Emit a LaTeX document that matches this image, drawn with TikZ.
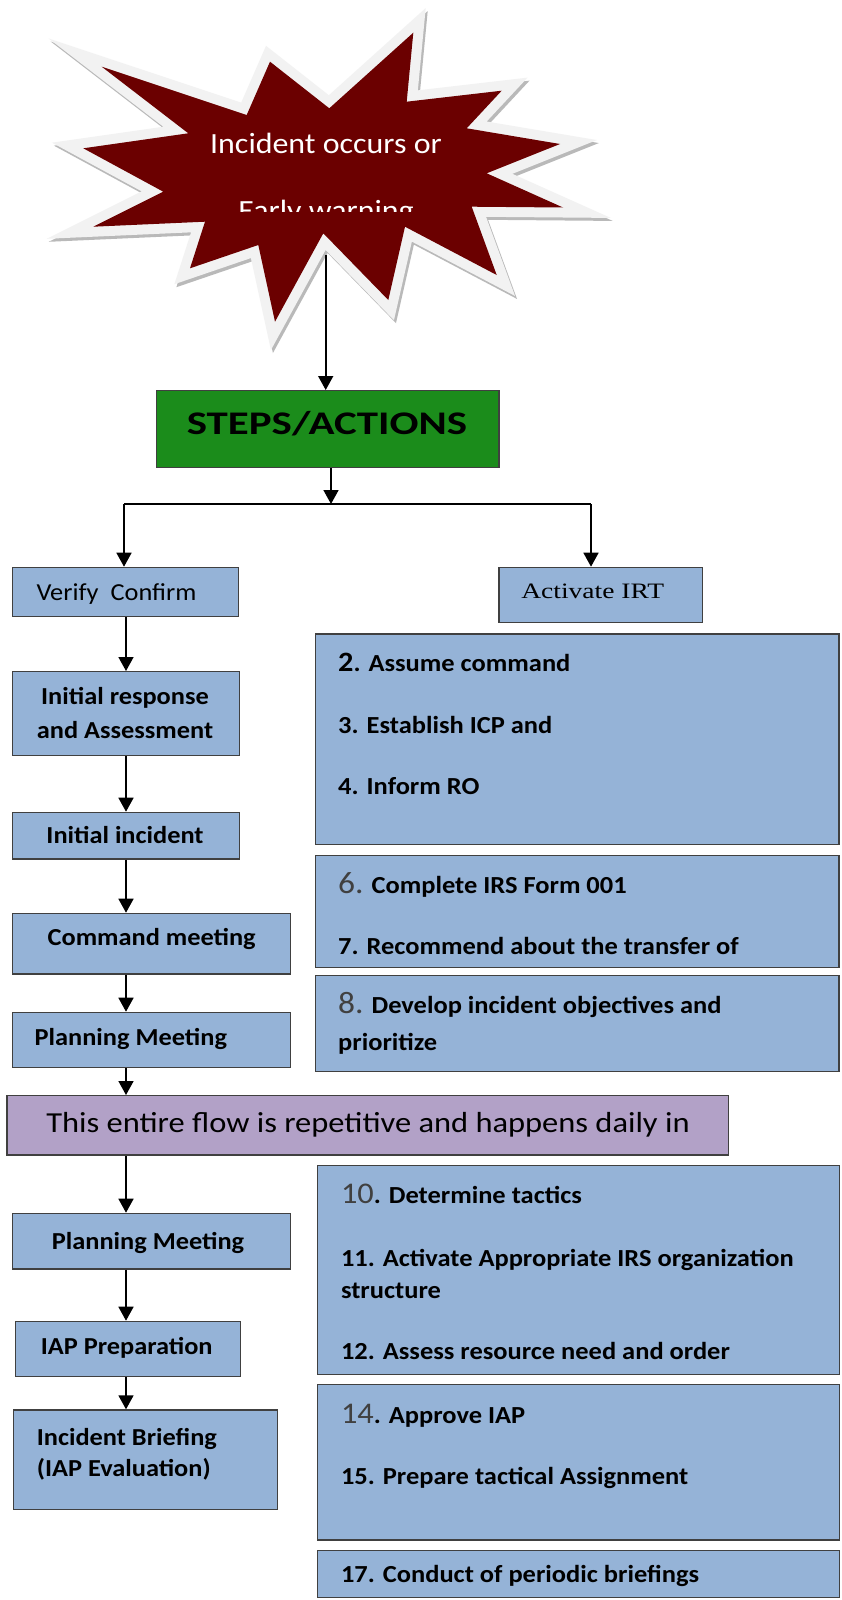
\documentclass[tikz,border=0pt]{standalone}
\usepackage{fontspec}
\setmainfont{Carlito}
\newfontfamily\stepsfont[FakeStretch=1.3]{Carlito}
\newfontfamily\starfont[FakeStretch=1.09]{Carlito}
\newfontfamily\boxfont[FakeStretch=1.08]{Carlito}
\newfontfamily\purplefont[FakeStretch=1.12]{Carlito}
\newfontfamily\irtfont[FakeStretch=1.25]{Liberation Serif}
\usetikzlibrary{arrows.meta}
\definecolor{boxblue}{RGB}{149,179,215}
\definecolor{boxpurple}{RGB}{178,161,199}
\definecolor{boxgreen}{RGB}{27,140,27}
\definecolor{stardark}{RGB}{107,0,0}
\definecolor{starrim}{RGB}{242,242,242}
\definecolor{numgrey}{RGB}{64,64,64}
\begin{document}
\begin{tikzpicture}[x=1pt,y=-1pt,
  bx/.style={draw=black!75, line width=1.4pt, fill=boxblue, inner sep=0pt, anchor=north west},
  lt/.style={inner sep=0pt, anchor=base, font=\boxfont\bfseries\fontsize{24.4}{28}\selectfont},
  ltw/.style={inner sep=0pt, anchor=base west, font=\boxfont\bfseries\fontsize{24.4}{28}\selectfont},
  rt/.style={inner sep=0pt, anchor=base west, font=\boxfont\bfseries\fontsize{24.5}{28}\selectfont},
  arr/.style={draw=black, line width=1.6pt, -{Triangle[length=14pt,width=15pt]}},
  ln/.style={draw=black, line width=1.3pt},
  starpath/.style={insert path={(101.7,66.7) -- (246.7,115) -- (270,61.7) -- (329.3,108.3) -- (413.3,32.7) -- (406.7,101.7) -- (501.7,90.7) -- (466.7,128.3) -- (560,144) -- (486.7,173.3) -- (563,207.5) -- (471.7,206.7) -- (496.7,275) -- (405,226.7) -- (388.3,300) -- (323.3,233.3) -- (275,321.7) -- (258.3,245) -- (190,268.3) -- (205,221.7) -- (93.3,226.7) -- (163.3,191.7) -- (83.3,148.3) -- (188.3,133.3) -- cycle}}
]
\useasboundingbox (0,0) rectangle (842,1600);
\fill[white] (0,0) rectangle (842,1600);

% ---- star ----
\begin{scope}[shift={(2,3)}]
  \path[draw=gray!55, line width=20pt, line join=miter, starpath];
\end{scope}
\path[draw=starrim, line width=20pt, line join=miter, starpath];
\path[fill=stardark, starpath];
\node[inner sep=0pt, anchor=base, text=white, font=\starfont\fontsize{29.3}{34}\selectfont] (star1) at (326,153.3) {Incident occurs or};
\begin{scope}
  \clip (0,0) rectangle (842,211.5);
  \node[inner sep=0pt, anchor=base, text=white, font=\starfont\fontsize{29.3}{34}\selectfont] (star2) at (326,220) {Early warning};
\end{scope}
\coordinate (s) at (325.7,255);

% ---- boxes ----
\node[bx, fill=boxgreen, minimum width=342.7pt, minimum height=77pt] (steps) at (155.7,390) {};
\node[inner sep=0pt, anchor=base, font=\stepsfont\bfseries\fontsize{33}{36}\selectfont] (steps-t) at (327,434) {STEPS/ACTIONS};

\node[bx, minimum width=226pt, minimum height=49.3pt] (verify) at (12,566.7) {};
\node[inner sep=0pt, anchor=base, font=\boxfont\fontsize{24.4}{28}\selectfont] (verify-t) at (116.5,600) {Verify\ \ Confirm};
\node[bx, minimum width=203.6pt, minimum height=55pt] (irt) at (498.4,566.7) {};
\node[inner sep=0pt, anchor=base, font=\irtfont\fontsize{22}{26}\selectfont] (irt-t) at (592.7,598.3) {Activate IRT};

\node[bx, minimum width=226.7pt, minimum height=84pt] (init) at (12,671) {};
\node[lt] (init-t1) at (125,704) {Initial response};
\node[lt] (init-t2) at (125,738.3) {and Assessment};
\node[bx, minimum width=226.7pt, minimum height=46.6pt] (inci) at (12,811.7) {};
\node[lt] (inci-t) at (125,843.3) {Initial incident};
\node[bx, minimum width=278pt, minimum height=60.6pt] (cmd) at (12,912.7) {};
\node[lt] (cmd-t) at (151.7,945) {Command meeting};
\node[bx, minimum width=278pt, minimum height=55pt] (plan) at (12,1011.7) {};
\node[lt] (plan-t) at (130.8,1045) {Planning Meeting};

\node[bx, fill=boxpurple, minimum width=721.3pt, minimum height=59.3pt] (flow) at (6.4,1095) {};
\node[inner sep=0pt, anchor=base, font=\purplefont\fontsize{29}{33}\selectfont] (flow-t) at (368,1132.7) {This entire flow is repetitive and happens daily in};

\node[bx, minimum width=278pt, minimum height=55.6pt] (plan2) at (12,1212.7) {};
\node[lt] (plan2-t) at (148,1249.3) {Planning Meeting};
\node[bx, minimum width=225pt, minimum height=55.3pt] (iap) at (15,1320.7) {};
\node[lt] (iap-t) at (126.7,1354) {IAP Preparation};
\node[bx, minimum width=264pt, minimum height=99.7pt] (brief) at (12.7,1409.3) {};
\node[ltw] (brief-t1) at (36.7,1445) {Incident Briefing};
\node[ltw] (brief-t2) at (36.7,1476.7) {(IAP Evaluation)};

% right column
\node[bx, minimum width=523.7pt, minimum height=210.7pt] (ra) at (314.5,633.3) {};
\node[rt] (ra-t1) at (338,671.7) {{\fontsize{28}{30}\selectfont 2}. Assume command};
\node[rt] (ra-t2) at (338,733) {3. Establish ICP and};
\node[rt] (ra-t3) at (338,794) {4. Inform RO};

\node[bx, minimum width=523.7pt, minimum height=111.7pt] (rb) at (314.5,855) {};
\node[rt] (rb-t1) at (338,893.3) {{\mdseries\color{numgrey}\fontsize{31}{33}\selectfont 6.} Complete IRS Form 001};
\node[rt] (rb-t2) at (338,954.3) {7. Recommend about the transfer of};

\node[bx, minimum width=523.7pt, minimum height=95.7pt] (rc) at (314.5,975) {};
\node[rt] (rc-t1) at (338,1013) {{\mdseries\color{numgrey}\fontsize{31}{33}\selectfont 8.} Develop incident objectives and};
\node[rt] (rc-t2) at (338,1050) {prioritize};

\node[bx, minimum width=522pt, minimum height=209pt] (rd) at (316.6,1165) {};
\node[rt] (rd-t1) at (340.8,1203.3) {{\mdseries\color{numgrey}\fontsize{30}{33}\selectfont 10}. Determine tactics};
\node[rt] (rd-t2) at (340.8,1266.7) {11. Activate Appropriate IRS organization};
\node[rt] (rd-t3) at (340.8,1298.3) {structure};
\node[rt] (rd-t4) at (340.8,1359.3) {12. Assess resource need and order};

\node[bx, minimum width=522pt, minimum height=155.3pt] (re) at (316.6,1384) {};
\node[rt] (re-t1) at (340.8,1423.3) {{\mdseries\color{numgrey}\fontsize{30}{33}\selectfont 14}. Approve IAP};
\node[rt] (re-t2) at (340.8,1484.3) {15. Prepare tactical Assignment};

\node[bx, minimum width=522pt, minimum height=46.7pt] (rf) at (316.6,1550) {};
\node[rt] (rf-t) at (340.8,1582.7) {17. Conduct of periodic briefings};

% ---- connectors ----
\draw[arr] (s) -- (s |- steps.north);
\coordinate (split) at (331,504);
\coordinate (jl) at (124,504);
\coordinate (jr) at (591,504);
\draw[arr] (steps.south -| split) -- (split);
\draw[ln] (jl) -- (jr);
\draw[arr] (jl) -- (jl |- verify.north);
\draw[arr] (jr) -- (jr |- irt.north);
\coordinate (lc) at (126,0);
\foreach \a/\b in {verify/init, init/inci, inci/cmd, cmd/plan, plan/flow, flow/plan2, plan2/iap, iap/brief}
  \draw[arr] (\a.south -| lc) -- (\b.north -| lc);
\end{tikzpicture}
\end{document}
